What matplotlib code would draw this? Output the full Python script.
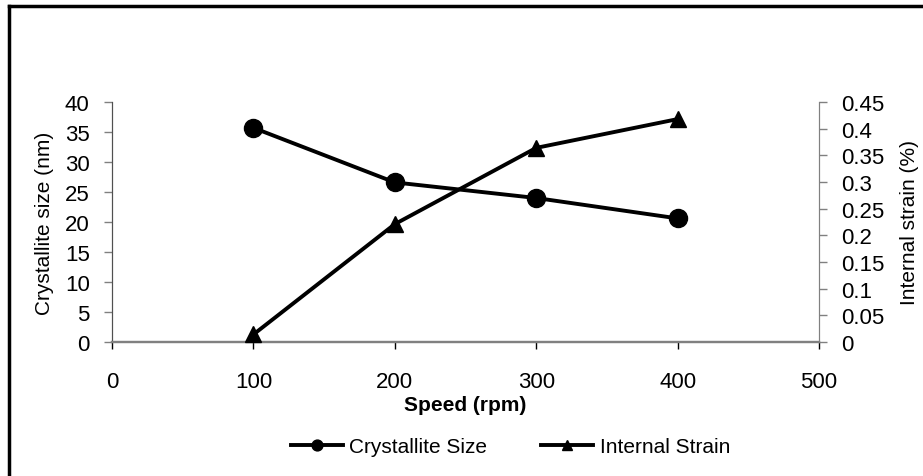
import matplotlib
matplotlib.use('Agg')
import matplotlib.pyplot as plt
from matplotlib.lines import Line2D

plt.rcParams['font.family'] = ['Liberation Sans', 'DejaVu Sans']

# values
speed = [100, 200, 300, 400]
crystallite_size = [35.7, 26.6, 24.0, 20.6]   # nm
internal_strain = [0.014, 0.221, 0.364, 0.418]  # %

x_ticks = [0, 100, 200, 300, 400, 500]
left_ticks = [0, 5, 10, 15, 20, 25, 30, 35, 40]
right_ticks = [0, 0.05, 0.1, 0.15, 0.2, 0.25, 0.3, 0.35, 0.4, 0.45]
right_labels = ['0', '0.05', '0.1', '0.15', '0.2', '0.25', '0.3', '0.35', '0.4', '0.45']

grey = '#808080'

fig = plt.figure(figsize=(9.23, 4.77), dpi=100)
ax = fig.add_axes([0.1213, 0.281, 0.7661, 0.503])
ax2 = ax.twinx()

l1, = ax.plot(speed, crystallite_size, color='black', lw=2.8, marker='o',
              markersize=13, label='Crystallite Size', clip_on=False, zorder=3)
l2, = ax2.plot(speed, internal_strain, color='black', lw=2.8, marker='^',
               markersize=12, label='Internal Strain', clip_on=False, zorder=3)

ax.set_xlim(0, 500)
ax.set_ylim(0, 40)
ax2.set_ylim(0, 0.45)
ax.set_xticks(x_ticks)
ax.set_yticks(left_ticks)
ax2.set_yticks(right_ticks)
ax2.set_yticklabels(right_labels)

for a in (ax, ax2):
    a.spines['top'].set_visible(False)
    a.spines['bottom'].set_color(grey)
    a.spines['left'].set_color('#505050')
    a.spines['right'].set_color(grey)
    a.spines['bottom'].set_linewidth(1.6)

ax.tick_params(axis='x', direction='out', length=5, width=1, color='black',
               labelsize=16, pad=16)
ax.tick_params(axis='y', direction='out', length=6, width=1, color=grey,
               labelsize=16, pad=10)
ax2.tick_params(axis='y', direction='out', length=6, width=1, color=grey,
                labelsize=16, pad=10)

ax.set_xlabel('Speed (rpm)', fontsize=15, fontweight='bold', labelpad=2)
ax.set_ylabel('Crystallite size (nm)', fontsize=15, labelpad=8)
ax2.set_ylabel('Internal strain (%)', fontsize=15, labelpad=11)

fig.legend(handles=[l1, l2], loc='center', bbox_to_anchor=(0.553, 0.061),
           ncol=2, frameon=False, fontsize=15, markerscale=0.6,
           handlelength=2.5, columnspacing=2.6, handletextpad=0.3)

# outer frame: only left and top edges are visible in the crop
fig.add_artist(Line2D([0.0098, 0.0098], [0, 0.985], transform=fig.transFigure,
                      color='black', lw=2.5))
fig.add_artist(Line2D([0.0098, 1.0], [0.985, 0.985], transform=fig.transFigure,
                      color='black', lw=2.5))

fig.savefig('out.png', dpi=100)
